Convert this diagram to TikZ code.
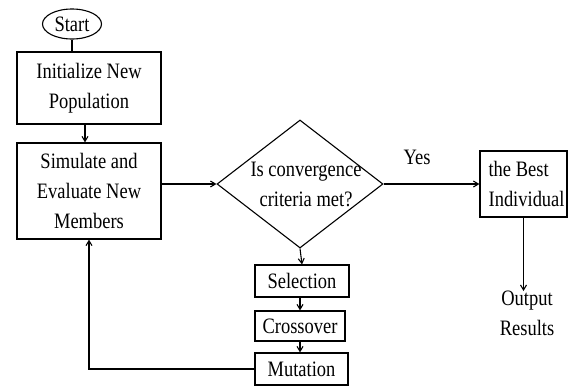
\documentclass[tikz,border=0pt]{standalone}
\usepackage{fontspec}
\setmainfont{Liberation Serif}[FakeStretch=0.84]
\usetikzlibrary{shapes.geometric,arrows.meta}
\begin{document}
\begin{tikzpicture}[x=1pt,y=-1pt,
  every node/.style={font=\fontsize{22}{30}\selectfont, inner sep=0pt},
  box/.style={draw, line width=1.2pt, align=center},
  arr/.style={-{Straight Barb[length=5pt,width=6pt]}, line width=1.1pt},
  ln/.style={line width=1.1pt}]
\useasboundingbox (0,0) rectangle (569,386);
\node[ellipse, draw, line width=1.1pt, minimum width=59pt, minimum height=30pt] (start) at (72,24) {Start};
\node[box, minimum width=144pt, minimum height=72pt] (init) at (89,88) {Initialize New\\Population};
\node[box, minimum width=144pt, minimum height=96pt] (sim) at (89,191) {Simulate and\\Evaluate New\\Members};
\node[diamond, draw, line width=1.1pt, minimum width=166pt, minimum height=128pt] (q) at (300,184) {};
\node[align=center] (qt) at (306,184) {Is convergence\\criteria met?};
\node[box, minimum width=94pt, minimum height=32pt] (sel) at (302,281) {Selection};
\node[box, minimum width=90pt, minimum height=30pt] (cro) at (300,326) {Crossover};
\node[box, minimum width=93pt, minimum height=32pt] (mut) at (301.5,369) {Mutation};
\node[draw, line width=1.2pt, minimum width=87pt, minimum height=66pt] (best) at (523.5,184) {};
\node[align=left, anchor=west] (bestt) at ([xshift=9pt]best.west) {the Best\\Individual};
\node[align=center, anchor=north] (out) at (527,291) {Output\\Results};
\node (yes) at (417,157) {Yes};
\draw[ln] (start.south) -- (start.south |- init.north);
\draw[arr] ([xshift=-4pt]init.south) -- ([xshift=-4pt]sim.north);
\draw[arr] (sim.east |- q.west) -- (q.west);
\draw[arr] (q.south) -- (sel.north);
\draw[arr] (sel.south -| cro.north) -- (cro.north);
\draw[arr] (cro.south) -- (cro.south |- mut.north);
\draw[arr] (mut.west) -| (sim.south);
\draw[arr] (q.east) -- (best.west);
\draw[arr] (best.south) -- (best.south |- out.north);
\end{tikzpicture}
\end{document}
